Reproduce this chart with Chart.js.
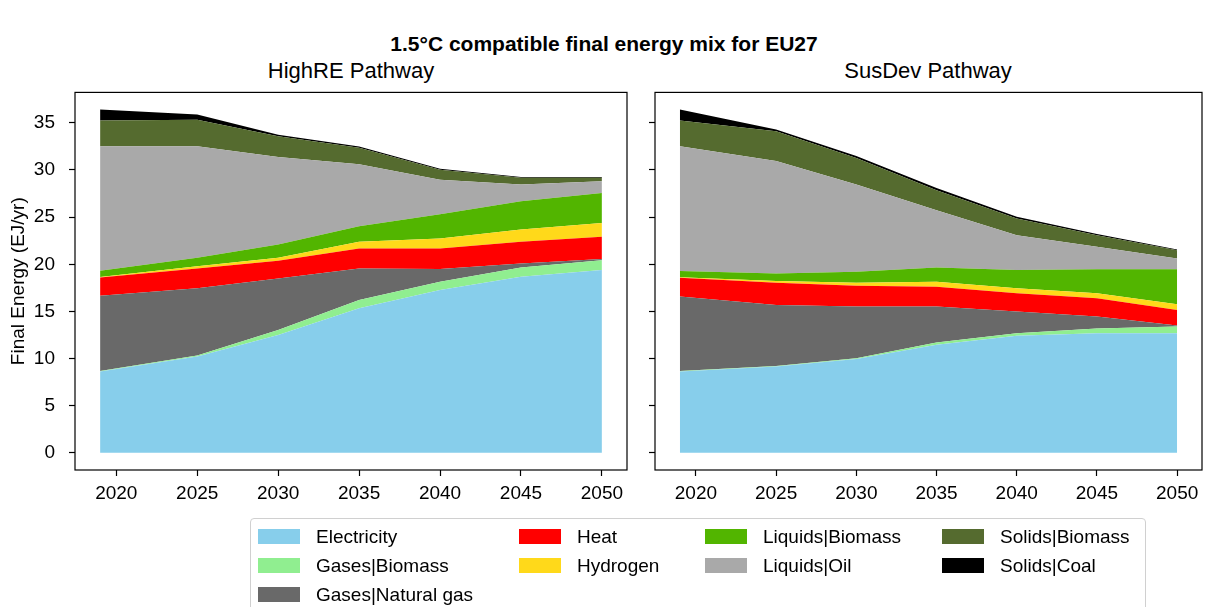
<!DOCTYPE html>
<html>
<head>
<meta charset="utf-8">
<script src="https://cdn.jsdelivr.net/npm/chart.js@4.4.1/dist/chart.umd.min.js"></script>
<style>
  body { margin: 0; background: #fff; font-family: "Liberation Sans", Arial, sans-serif; color: #000; }
  #pagina { position: relative; width: 1208px; height: 607px; overflow: hidden; }
  .texto { position: absolute; white-space: nowrap; transform: translateX(-50%); }
  #titulo { left: 604px; top: 32px; font-size: 21px; font-weight: bold; }
  .subtitulo { top: 58px; font-size: 22px; }
  .quadro { position: absolute; top: 67px; height: 453px; }
  #legenda {
    position: absolute; left: 250px; top: 518px; width: 896px; height: 100px;
    border: 1px solid #d0d0d0; border-radius: 4px; box-sizing: border-box;
  }
  .item { position: absolute; display: flex; align-items: center; font-size: 19px; height: 29px; }
  .item span.cor { display: inline-block; width: 42px; height: 15px; margin-right: 16px; }
</style>
</head>
<body>
<div id="pagina">
  <div id="titulo" class="texto">1.5°C compatible final energy mix for EU27</div>
  <div class="texto subtitulo" style="left:351px">HighRE Pathway</div>
  <div class="texto subtitulo" style="left:928px">SusDev Pathway</div>
  <div class="quadro" style="left:0; width:640px"><canvas id="graficoHighRE"></canvas></div>
  <div class="quadro" style="left:580px; width:628px"><canvas id="graficoSusDev"></canvas></div>
  <div id="legenda"></div>
</div>
<script>
// Anos e categorias (ordem de empilhamento, de baixo para cima)
const ANOS = [2019, 2025, 2030, 2035, 2040, 2045, 2050];
const CATEGORIAS = [
  "Electricity", "Gases|Biomass", "Gases|Natural gas", "Heat", "Hydrogen",
  "Liquids|Biomass", "Liquids|Oil", "Solids|Biomass", "Solids|Coal",
];
const CORES = [
  "#87ceeb", "#90ee90", "#696969", "#ff0000", "#ffd91a",
  "#52b500", "#a9a9a9", "#556b2f", "#000000",
];
const TICKS_X = [2020, 2025, 2030, 2035, 2040, 2045, 2050];
const TICKS_Y = [0, 5, 10, 15, 20, 25, 30, 35];

// HighRE (EJ/yr)
const highreEletricidade = [8.64, 10.22, 12.51, 15.33, 17.27, 18.68, 19.39];
const highreGasBiomassa  = [0.05, 0.10, 0.53, 0.88, 0.88, 0.99, 1.05];
const highreGasNatural   = [7.98, 7.13, 5.46, 3.35, 1.34, 0.42, 0.11];
const highreCalor        = [1.94, 2.11, 1.87, 2.12, 2.19, 2.29, 2.36];
const highreHidrogenio   = [0.05, 0.24, 0.32, 0.70, 1.06, 1.31, 1.48];
const highreLiqBiomassa  = [0.66, 0.89, 1.41, 1.66, 2.57, 2.99, 3.17];
const highreLiqPetroleo  = [13.21, 11.84, 9.27, 6.56, 3.66, 1.77, 1.24];
const highreSolBiomassa  = [2.72, 2.79, 2.22, 1.76, 1.06, 0.74, 0.39];
const highreSolCarvao    = [1.16, 0.56, 0.14, 0.14, 0.11, 0.07, 0.07];

// SusDev (EJ/yr)
const susdevEletricidade = [8.64, 9.16, 9.94, 11.46, 12.41, 12.69, 12.69];
const susdevGasBiomassa  = [0.05, 0.05, 0.10, 0.24, 0.28, 0.49, 0.70];
const susdevGasNatural   = [7.88, 6.48, 5.47, 3.81, 2.29, 1.27, 0.11];
const susdevCalor        = [2.01, 2.36, 2.22, 2.11, 1.94, 1.94, 1.66];
const susdevHidrogenio   = [0.05, 0.17, 0.32, 0.53, 0.53, 0.53, 0.60];
const susdevLiqBiomassa  = [0.65, 0.81, 1.16, 1.52, 1.94, 2.54, 3.70];
const susdevLiqPetroleo  = [13.25, 11.92, 9.24, 6.06, 3.70, 2.39, 1.16];
const susdevSolBiomassa  = [2.72, 3.17, 2.82, 2.12, 1.76, 1.24, 0.88];
const susdevSolCarvao    = [1.16, 0.18, 0.21, 0.24, 0.18, 0.11, 0.07];

const SERIES_HIGHRE = [highreEletricidade, highreGasBiomassa, highreGasNatural, highreCalor,
  highreHidrogenio, highreLiqBiomassa, highreLiqPetroleo, highreSolBiomassa, highreSolCarvao];
const SERIES_SUSDEV = [susdevEletricidade, susdevGasBiomassa, susdevGasNatural, susdevCalor,
  susdevHidrogenio, susdevLiqBiomassa, susdevLiqPetroleo, susdevSolBiomassa, susdevSolCarvao];

const FONTE = { family: "Liberation Sans, Arial, sans-serif", size: 19 };

// Moldura completa em volta da área do gráfico (estilo matplotlib)
const pluginMoldura = {
  id: "moldura",
  afterDraw(chart) {
    const { ctx, chartArea: a } = chart;
    ctx.save();
    ctx.strokeStyle = "#000";
    ctx.lineWidth = 1.2;
    ctx.strokeRect(a.left, a.top, a.right - a.left, a.bottom - a.top);
    ctx.restore();
  },
};

/** Gráfico de área empilhada para um cenário */
function graficoArea(canvasId, series, comRotuloY, paddingDireita) {
  const datasets = series.map((valores, i) => ({
    label: CATEGORIAS[i],
    data: ANOS.map((ano, j) => ({ x: ano, y: valores[j] })),
    backgroundColor: CORES[i],
    borderWidth: 0,
    pointRadius: 0,
    tension: 0,
    fill: i === 0 ? "origin" : "-1",
  }));

  return new Chart(document.getElementById(canvasId), {
    type: "line",
    data: { datasets },
    options: {
      responsive: true,
      maintainAspectRatio: false,
      animation: false,
      layout: { padding: { top: 0, right: paddingDireita, left: 0, bottom: 0 } },
      plugins: { legend: { display: false }, tooltip: { enabled: false } },
      scales: {
        x: {
          type: "linear",
          min: 2017.45,
          max: 2051.55,
          afterBuildTicks: (s) => { s.ticks = TICKS_X.map((v) => ({ value: v })); },
          afterFit: (s) => { s.height = 50; },
          border: { display: false },
          grid: { drawOnChartArea: false, tickLength: 6, color: "#000", tickWidth: 1.2 },
          ticks: { color: "#000", font: FONTE, padding: 6, maxRotation: 0, callback: (v) => String(v) },
        },
        y: {
          stacked: true,
          min: -1.82,
          max: 38.23,
          afterBuildTicks: (s) => { s.ticks = TICKS_Y.map((v) => ({ value: v })); },
          afterFit: (s) => { s.width = 75; },
          border: { display: false },
          grid: { drawOnChartArea: false, tickLength: 6, color: "#000", tickWidth: 1.2 },
          ticks: { color: "#000", font: FONTE, padding: 14, callback: (v) => (comRotuloY ? String(v) : "") },
          title: {
            display: comRotuloY,
            text: "Final Energy (EJ/yr)",
            color: "#000",
            font: { family: FONTE.family, size: 19 },
            padding: { top: 7, bottom: 0 },
          },
        },
      },
    },
    plugins: [pluginMoldura],
  });
}

/** Legenda em 4 colunas, preenchida por coluna como no matplotlib */
function montarLegenda() {
  const caixa = document.getElementById("legenda");
  const colunasX = [7, 268, 454, 691];
  const nCol = 4;
  const linhas = Math.ceil(CATEGORIAS.length / nCol);
  const extras = CATEGORIAS.length % nCol || nCol;
  let idx = 0;
  for (let c = 0; c < nCol; c++) {
    const n = c < extras ? linhas : linhas - 1;
    for (let r = 0; r < n; r++, idx++) {
      const item = document.createElement("div");
      item.className = "item";
      item.style.left = colunasX[c] + "px";
      item.style.top = 3 + r * 29 + "px";
      item.innerHTML = `<span class="cor" style="background:${CORES[idx]}"></span>${CATEGORIAS[idx]}`;
      caixa.appendChild(item);
    }
  }
}

graficoArea("graficoHighRE", SERIES_HIGHRE, true, 13);
graficoArea("graficoSusDev", SERIES_SUSDEV, false, 6);
montarLegenda();
</script>
</body>
</html>
